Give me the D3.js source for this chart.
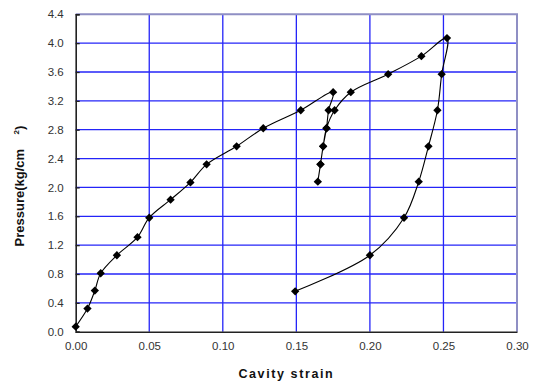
<!DOCTYPE html>
<html>
<head>
<meta charset="utf-8">
<script src="https://cdn.jsdelivr.net/npm/d3@7"></script>
<style>
  body { margin: 0; background: #fff; }
  svg { display: block; }
</style>
</head>
<body>
<svg id="chart" width="538" height="383"></svg>
<script>
'use strict';
// cavity strain vs pressure, one loading/unloading loop path
const strain = [0.000, 0.008, 0.013, 0.017, 0.028, 0.042, 0.050, 0.0645, 0.078, 0.089, 0.1094, 0.1275, 0.153, 0.175,
  0.1719, 0.1705, 0.1682, 0.1664, 0.1646,
  0.1664, 0.1682, 0.1705, 0.176, 0.187, 0.2124, 0.235, 0.2524,
  0.2488, 0.2459, 0.2398, 0.2332, 0.2232, 0.200, 0.1492];
const pressure = [0.07, 0.32, 0.57, 0.81, 1.06, 1.31, 1.58, 1.83, 2.07, 2.32, 2.57, 2.82, 3.07, 3.32,
  3.07, 2.82, 2.57, 2.32, 2.08,
  2.32, 2.57, 2.82, 3.07, 3.32, 3.57, 3.82, 4.07,
  3.57, 3.07, 2.57, 2.08, 1.58, 1.06, 0.56];
const xTicks = [0, 0.05, 0.10, 0.15, 0.20, 0.25, 0.30];
const yTicks = [0, 0.4, 0.8, 1.2, 1.6, 2.0, 2.4, 2.8, 3.2, 3.6, 4.0, 4.4];

const svg = d3.select('#chart');
const plotL = 75.7, plotR = 517, plotT = 14.3, plotB = 331.7;

const x = d3.scaleLinear().domain([0, 0.30]).range([plotL, plotR]);
const y = d3.scaleLinear().domain([0, 4.4]).range([plotB, plotT]);

const font = 'Liberation Sans, Arial, sans-serif';

// grid
svg.append('g').selectAll('line').data(xTicks.slice(1, -1)).join('line')
  .attr('x1', d => x(d)).attr('x2', d => x(d))
  .attr('y1', plotT).attr('y2', plotB)
  .attr('stroke', '#2424f8').attr('stroke-width', 1.3);
svg.append('g').selectAll('line').data(yTicks.slice(1, -1)).join('line')
  .attr('x1', plotL).attr('x2', plotR)
  .attr('y1', d => y(d)).attr('y2', d => y(d))
  .attr('stroke', '#2424f8').attr('stroke-width', 1.3);

// top / right frame
svg.append('path')
  .attr('d', `M${plotL},${plotT}H${plotR}V${plotB}`)
  .attr('fill', 'none').attr('stroke', '#8f8fc4').attr('stroke-width', 2);

// axes
const yAxis = d3.axisLeft(y).tickValues(yTicks).tickSize(-4).tickPadding(14)
  .tickFormat(d3.format('.1f'));
const gy = svg.append('g').attr('transform', `translate(${plotL},0)`).call(yAxis);
const xAxis = d3.axisBottom(x).tickValues(xTicks).tickSize(0).tickPadding(10)
  .tickFormat(d3.format('.2f'));
const gx = svg.append('g').attr('transform', `translate(0,${plotB})`).call(xAxis);

[gx, gy].forEach(g => {
  g.select('.domain').attr('stroke', '#222').attr('stroke-width', 1.6);
  g.selectAll('.tick line').attr('stroke', '#222').attr('stroke-width', 1.3);
  g.selectAll('text').attr('font-family', font).attr('font-size', 11.5).attr('fill', '#333');
});
gy.selectAll('text').attr('x', -12);

// series line
const line = d3.line()
  .x((d, i) => x(strain[i]))
  .y((d, i) => y(pressure[i]))
  .curve(d3.curveCatmullRom.alpha(0.5));
svg.append('path')
  .datum(strain)
  .attr('d', line)
  .attr('fill', 'none')
  .attr('stroke', '#000')
  .attr('stroke-width', 1.1);

// diamond markers
const sym = d3.symbol().type(d3.symbolDiamond2).size(44);
svg.append('g').selectAll('path').data(strain).join('path')
  .attr('d', sym)
  .attr('transform', (d, i) => `translate(${x(d)},${y(pressure[i])})`)
  .attr('fill', '#000');

// titles
svg.append('text')
  .attr('x', (plotL + plotR) / 2 - 10).attr('y', 378)
  .attr('text-anchor', 'middle')
  .attr('font-family', font).attr('font-size', 12.5).attr('font-weight', 'bold')
  .attr('letter-spacing', 1.6)
  .attr('fill', '#111')
  .text('Cavity strain');

const yt = svg.append('text')
  .attr('transform', 'translate(24,186) rotate(-90)')
  .attr('text-anchor', 'middle')
  .attr('font-family', font).attr('font-size', 13).attr('font-weight', 'bold')
  .attr('fill', '#111');
yt.append('tspan').text('Pressure(kg/cm\u00a0\u00a0\u00a0\u00a0');
yt.append('tspan').attr('dy', -5).attr('font-size', 8).text('2');
yt.append('tspan').attr('dy', 5).text(')');
</script>
</body>
</html>
